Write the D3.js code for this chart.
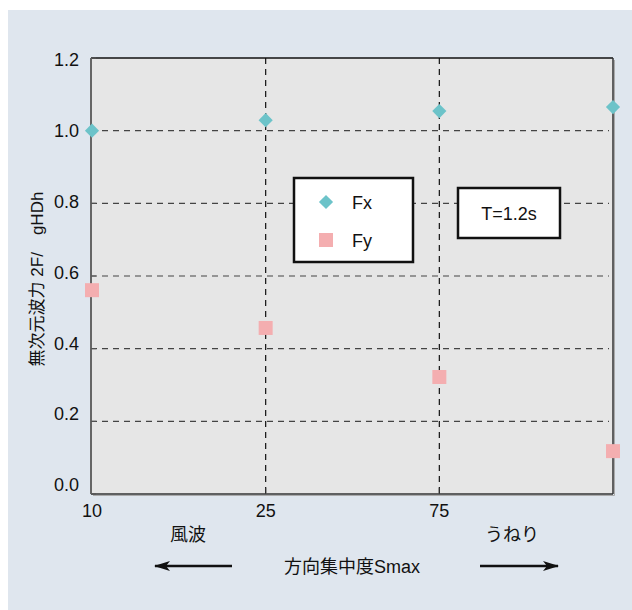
<!DOCTYPE html>
<html>
<head>
<meta charset="utf-8">
<script src="https://cdn.jsdelivr.net/npm/d3@7"></script>
<style>
  html, body { margin: 0; padding: 0; background: #ffffff; }
  svg { display: block; }
  text { font-family: "Liberation Sans", Arial, "Noto Sans CJK JP", sans-serif; fill: #111; }
</style>
</head>
<body>
<svg id="chart" width="632" height="610"></svg>
<script>
// ---- data ----
const categories = ["10", "25", "75", "max"];
const xTickLabels = ["10", "25", "75", ""];
const fxValues = [1.0, 1.029, 1.054, 1.065];
const fyValues = [0.561, 0.457, 0.322, 0.118];
const yTicks = [0.0, 0.2, 0.4, 0.6, 0.8, 1.0, 1.2];
const seriesNames = ["Fx", "Fy"];
const yLabel = "無次元波力 2F/\u3000gHDh";
const xLabel = "方向集中度Smax";
const leftNote = "風波";
const rightNote = "うねり";
const periodNote = "T=1.2s";

// ---- layout ----
const svg = d3.select("#chart");
const L = 91, R = 613, T = 58, B = 494;
const fxColor = "#6cc3c9", fyColor = "#f4aeb0";

svg.append("rect").attr("x", 8).attr("y", 10).attr("width", 624).attr("height", 600).attr("fill", "#dfe6ee");

const x = d3.scalePoint().domain(categories).range([L + 1, R]);
const y = d3.scaleLinear().domain([0, 1.2]).range([B, T]);
const yLab = d3.scaleLinear().domain([0, 1.2]).range([485, 60]);

// plot background
svg.append("rect").attr("x", L).attr("y", T).attr("width", R - L).attr("height", B - T).attr("fill", "#e6e6e6");

// horizontal grid
svg.append("g").selectAll("line").data(yTicks.filter(v => v > 0 && v < 1.2)).join("line")
  .attr("x1", L).attr("x2", R - 4)
  .attr("y1", d => y(d)).attr("y2", d => y(d))
  .attr("stroke", "#444").attr("stroke-width", 1.2).attr("stroke-dasharray", "6,5");

// vertical grid
svg.append("g").selectAll("line").data(categories.slice(1, 3)).join("line")
  .attr("x1", d => x(d)).attr("x2", d => x(d))
  .attr("y1", T).attr("y2", B)
  .attr("stroke", "#111").attr("stroke-width", 1.2).attr("stroke-dasharray", "6,5");

// frame: right/bottom shadow
svg.append("line").attr("x1", R + 1.5).attr("x2", R + 1.5).attr("y1", T + 2).attr("y2", B + 1.5).attr("stroke", "#aaa").attr("stroke-width", 1);
svg.append("line").attr("x1", L + 2).attr("x2", R + 1.5).attr("y1", B + 1.5).attr("y2", B + 1.5).attr("stroke", "#aaa").attr("stroke-width", 1);
svg.append("line").attr("x1", L).attr("x2", R).attr("y1", T).attr("y2", T).attr("stroke", "#111").attr("stroke-width", 1.5);
svg.append("line").attr("x1", R).attr("x2", R).attr("y1", T).attr("y2", B).attr("stroke", "#333").attr("stroke-width", 1.5);
svg.append("line").attr("x1", L).attr("x2", R).attr("y1", B).attr("y2", B).attr("stroke", "#333").attr("stroke-width", 1.5);
svg.append("line").attr("x1", L).attr("x2", L).attr("y1", T).attr("y2", B).attr("stroke", "#666").attr("stroke-width", 2);

// y ticks (inside)
svg.append("g").selectAll("line").data(yTicks).join("line")
  .attr("x1", L).attr("x2", L + 5).attr("y1", d => y(d)).attr("y2", d => y(d))
  .attr("stroke", "#555").attr("stroke-width", 1);
// x ticks (inside)
svg.append("g").selectAll("line").data(categories.slice(1, 3)).join("line")
  .attr("x1", d => x(d)).attr("x2", d => x(d)).attr("y1", B - 6).attr("y2", B)
  .attr("stroke", "#333").attr("stroke-width", 1);

// y tick labels
svg.append("g").selectAll("text").data(yTicks).join("text")
  .attr("x", 79).attr("y", d => yLab(d)).attr("dy", "0.35em")
  .attr("text-anchor", "end").attr("font-size", 18)
  .text(d => d.toFixed(1));

// x tick labels
svg.append("g").selectAll("text").data(categories).join("text")
  .attr("x", d => x(d)).attr("y", 511).attr("dy", "0.35em")
  .attr("text-anchor", "middle").attr("font-size", 18)
  .text((d, i) => xTickLabels[i]);

// y label
svg.append("text").attr("transform", "translate(37,279) rotate(-90)")
  .attr("text-anchor", "middle").attr("dy", "0.35em").attr("font-size", 17)
  .text(yLabel);

// notes
svg.append("text").attr("x", 188).attr("y", 535).attr("dy", "0.35em").attr("text-anchor", "middle").attr("font-size", 18).text(leftNote);
svg.append("text").attr("x", 512).attr("y", 535).attr("dy", "0.35em").attr("text-anchor", "middle").attr("font-size", 18).text(rightNote);
svg.append("text").attr("x", 352).attr("y", 567).attr("dy", "0.35em").attr("text-anchor", "middle").attr("font-size", 18).text(xLabel);

// arrows
const defs = svg.append("defs");
defs.append("marker").attr("id", "ah").attr("viewBox", "0 0 16 10").attr("refX", 15).attr("refY", 5)
  .attr("markerWidth", 16).attr("markerHeight", 10).attr("markerUnits", "userSpaceOnUse").attr("orient", "auto")
  .append("path").attr("d", "M0,0 L16,5 L0,10 L4,5 Z").attr("fill", "#111");
svg.append("line").attr("x1", 232).attr("x2", 155).attr("y1", 566).attr("y2", 566)
  .attr("stroke", "#111").attr("stroke-width", 2.5).attr("marker-end", "url(#ah)");
svg.append("line").attr("x1", 480).attr("x2", 558).attr("y1", 566).attr("y2", 566)
  .attr("stroke", "#111").attr("stroke-width", 2.5).attr("marker-end", "url(#ah)");

// points
const diamond = d3.symbol().type(d3.symbolDiamond2).size(128);
const square = d3.symbol().type(d3.symbolSquare).size(196);
svg.append("g").selectAll("path").data(fyValues).join("path")
  .attr("d", square).attr("fill", fyColor)
  .attr("transform", (d, i) => `translate(${x(categories[i])},${y(d)})`);
svg.append("g").selectAll("path").data(fxValues).join("path")
  .attr("d", diamond).attr("fill", fxColor)
  .attr("transform", (d, i) => `translate(${x(categories[i])},${y(d)})`);

// legend
const lg = svg.append("g");
lg.append("rect").attr("x", 294).attr("y", 178).attr("width", 119).attr("height", 84)
  .attr("fill", "#fff").attr("stroke", "#111").attr("stroke-width", 2.5);
lg.append("path").attr("d", diamond).attr("fill", fxColor).attr("transform", "translate(326,202)");
lg.append("path").attr("d", square).attr("fill", fyColor).attr("transform", "translate(326,240)");
lg.append("text").attr("x", 352).attr("y", 203).attr("dy", "0.35em").attr("font-size", 18).text(seriesNames[0]);
lg.append("text").attr("x", 352).attr("y", 241).attr("dy", "0.35em").attr("font-size", 18).text(seriesNames[1]);

// T box
svg.append("rect").attr("x", 458).attr("y", 188).attr("width", 102).attr("height", 50)
  .attr("fill", "#fff").attr("stroke", "#111").attr("stroke-width", 2.5);
svg.append("text").attr("x", 509).attr("y", 214).attr("dy", "0.35em").attr("text-anchor", "middle").attr("font-size", 18).text(periodNote);
</script>
</body>
</html>
